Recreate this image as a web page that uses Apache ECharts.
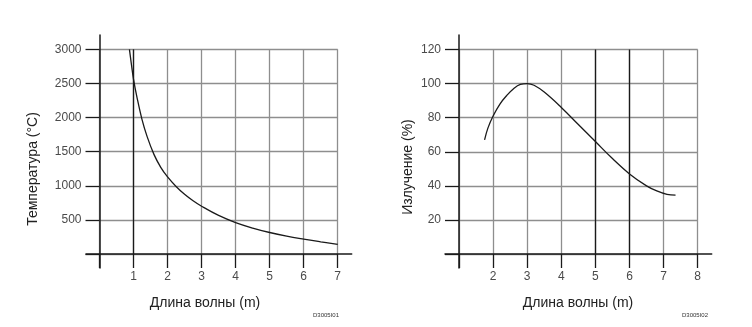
<!DOCTYPE html>
<html>
<head>
<meta charset="utf-8">
<script src="https://cdn.jsdelivr.net/npm/echarts@6/dist/echarts.min.js"></script>
<style>
  html, body { margin: 0; padding: 0; background: #fff; }
  #chart { width: 752px; height: 327px; }
</style>
</head>
<body>
<div id="chart"></div>
<script>
// Wavelength vs. temperature (left) and relative emission (right)
const leftWavelength = [0.88, 0.94, 1.0, 1.1, 1.25, 1.4, 1.6, 1.8, 2.0, 2.25, 2.5, 2.75, 3.0, 3.5, 4.0, 4.5, 5.0, 5.5, 6.0, 6.5, 7.0];
const leftTemperature = [3000, 2770, 2560, 2300, 1970, 1720, 1460, 1270, 1130, 990, 875, 780, 700, 565, 460, 380, 315, 262, 218, 178, 140];

const rightWavelength = [1.75, 1.85, 2.0, 2.2, 2.4, 2.6, 2.8, 3.0, 3.2, 3.5, 4.0, 4.5, 5.0, 5.5, 6.0, 6.5, 6.8, 7.1, 7.35];
const rightEmission = [67, 74, 81, 88, 93, 97, 99.5, 100, 99, 95, 86, 76, 66, 56, 47, 40, 37, 35, 34.5];

// axis ranges and tick steps
const leftX = { min: 0, max: 7, step: 1 };
const leftY = { min: 0, max: 3000, step: 500 };
const rightX = { min: 1, max: 8, step: 1 };
const rightY = { min: 0, max: 120, step: 20 };

// emphasized vertical grid lines
const leftDarkLines = [1];
const rightDarkLines = [5, 6];

const xTitle = 'Длина волны (m)';
const leftYTitle = 'Температура (°C)';
const rightYTitle = 'Излучение (%)';
const leftCode = 'D3005I01';
const rightCode = 'D3005I02';

const GRID_GRAY = '#8e8e8e';
const INK = '#1a1a1a';
const LABEL = '#4a4a4a';
const FONT = '"Liberation Sans", Arial, sans-serif';

function pairs(xs, ys) { return xs.map((x, i) => [x, ys[i]]); }

function mainX(gridIndex, r, hideVal) {
  return {
    type: 'value', gridIndex, min: r.min, max: r.max, interval: r.step,
    axisLine: { show: false },
    axisTick: { show: true, length: 14, lineStyle: { color: INK, width: 1.3 } },
    splitLine: { show: true, lineStyle: { color: GRID_GRAY, width: 1.3 } },
    axisLabel: {
      margin: 17, color: LABEL, fontFamily: FONT, fontSize: 12,
      formatter: v => (v === hideVal ? '' : String(v))
    }
  };
}
function mainY(gridIndex, r) {
  return {
    type: 'value', gridIndex, min: r.min, max: r.max, interval: r.step,
    axisLine: { show: false },
    axisTick: { show: true, length: 14, lineStyle: { color: INK, width: 1.3 } },
    splitLine: { show: true, lineStyle: { color: GRID_GRAY, width: 1.3 } },
    axisLabel: {
      margin: 18, color: LABEL, fontFamily: FONT, fontSize: 12,
      formatter: v => (v === 0 ? '' : String(v))
    }
  };
}
const hidden = gridIndex => ({ type: 'value', gridIndex, show: false });
const lineOnly = gridIndex => ({
  type: 'value', gridIndex, min: 0, max: 1,
  axisLine: { show: true, onZero: false, lineStyle: { color: INK, width: 1.5 } },
  axisTick: { show: false }, axisLabel: { show: false }, splitLine: { show: false }
});

function darkMarks(xs, r) {
  return {
    silent: true, symbol: ['none', 'none'], label: { show: false },
    lineStyle: { color: INK, width: 1.3, type: 'solid' },
    data: xs.map(x => [{ coord: [x, r.min] }, { coord: [x, r.max] }])
  };
}

const option = {
  animation: false,
  backgroundColor: '#ffffff',
  grid: [
    // left chart: plot area, x-axis line, y-axis line
    { left: 99.5, top: 49.3, width: 238.2, height: 204.7 },
    { left: 86, top: 49.3, width: 265.7, height: 204.7 },
    { left: 99.5, top: 35, width: 238.2, height: 233 },
    // right chart
    { left: 459, top: 49.5, width: 238.7, height: 204.5 },
    { left: 445, top: 49.5, width: 266.7, height: 204.5 },
    { left: 459, top: 35, width: 238.7, height: 233 }
  ],
  xAxis: [
    mainX(0, leftX, 0),
    lineOnly(1),
    hidden(2),
    mainX(3, rightX, 1),
    lineOnly(4),
    hidden(5)
  ],
  yAxis: [
    mainY(0, leftY),
    hidden(1),
    lineOnly(2),
    mainY(3, rightY),
    hidden(4),
    lineOnly(5)
  ],
  series: [
    {
      type: 'line', xAxisIndex: 0, yAxisIndex: 0,
      data: pairs(leftWavelength, leftTemperature),
      smooth: 0.4, showSymbol: false, clip: false,
      lineStyle: { color: INK, width: 1.3 },
      markLine: darkMarks(leftDarkLines, leftY)
    },
    {
      type: 'line', xAxisIndex: 3, yAxisIndex: 3,
      data: pairs(rightWavelength, rightEmission),
      smooth: 0.4, showSymbol: false, clip: false,
      lineStyle: { color: INK, width: 1.3 },
      markLine: darkMarks(rightDarkLines, rightY)
    }
  ],
  graphic: [
    { type: 'text', x: 205, y: 303, style: { text: xTitle, font: '14px ' + FONT, fill: '#222', align: 'center', verticalAlign: 'middle' } },
    { type: 'text', x: 578, y: 303, style: { text: xTitle, font: '14px ' + FONT, fill: '#222', align: 'center', verticalAlign: 'middle' } },
    { type: 'text', x: 33.5, y: 169, rotation: Math.PI / 2, style: { text: leftYTitle, font: '14px ' + FONT, fill: '#222', align: 'center', verticalAlign: 'middle' } },
    { type: 'text', x: 408.5, y: 167, rotation: Math.PI / 2, style: { text: rightYTitle, font: '14px ' + FONT, fill: '#222', align: 'center', verticalAlign: 'middle' } },
    { type: 'text', x: 326, y: 315, style: { text: leftCode, font: '6px ' + FONT, fill: '#333', align: 'center', verticalAlign: 'middle' } },
    { type: 'text', x: 695, y: 315, style: { text: rightCode, font: '6px ' + FONT, fill: '#333', align: 'center', verticalAlign: 'middle' } }
  ]
};

const chart = echarts.init(document.getElementById('chart'), null, { renderer: 'canvas' });
chart.setOption(option);
</script>
</body>
</html>
